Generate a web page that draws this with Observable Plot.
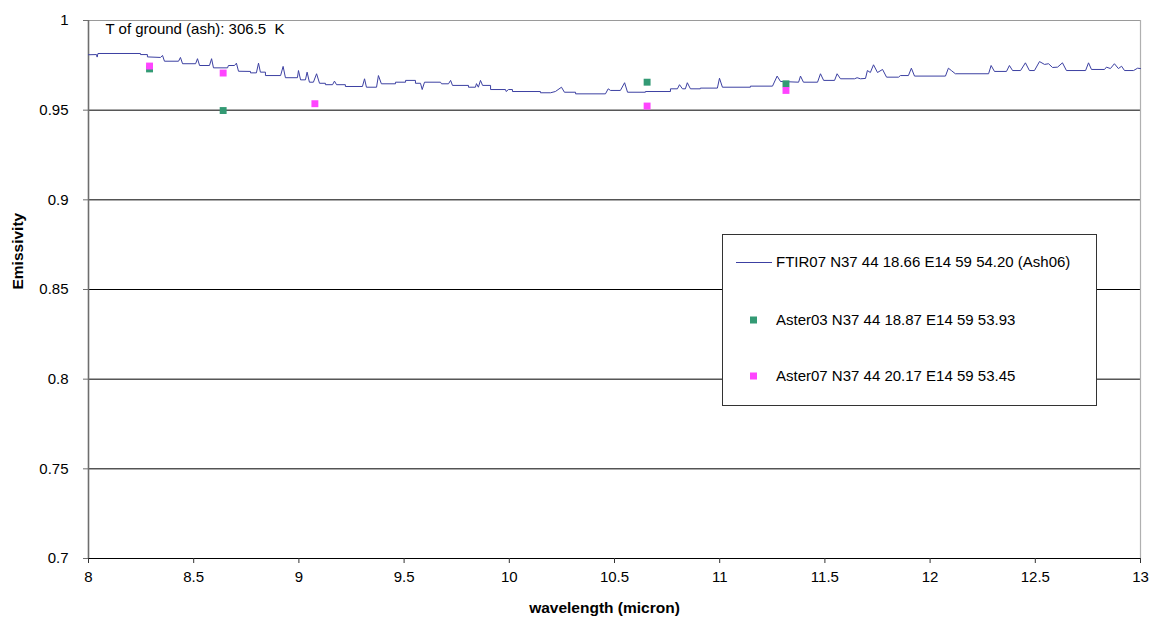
<!DOCTYPE html>
<html>
<head>
<meta charset="utf-8">
<script src="https://cdn.jsdelivr.net/npm/d3@7"></script>
<script src="https://cdn.jsdelivr.net/npm/@observablehq/plot@0.6"></script>
<style>
  html, body { margin: 0; padding: 0; background: #fff; }
  #chart { position: relative; width: 1153px; height: 630px; }
</style>
</head>
<body>
<div id="chart"></div>
<script>
// ---- Data ----
const ftirWl = [8.000,8.038,8.041,8.045,8.247,8.247,8.280,8.280,8.342,8.352,8.361,8.428,8.437,8.447,8.509,8.518,8.528,8.575,8.585,8.594,8.661,8.665,8.694,8.703,8.713,8.770,8.770,8.798,8.808,8.817,8.841,8.841,8.913,8.925,8.936,8.993,8.998,9.008,9.031,9.039,9.050,9.069,9.084,9.098,9.126,9.126,9.160,9.169,9.179,9.221,9.221,9.302,9.312,9.321,9.369,9.378,9.392,9.459,9.459,9.507,9.507,9.554,9.554,9.578,9.586,9.597,9.673,9.678,9.711,9.721,9.730,9.806,9.806,9.839,9.844,9.853,9.863,9.873,9.911,9.911,9.982,9.985,9.996,10.015,10.015,10.148,10.148,10.196,10.219,10.248,10.262,10.315,10.315,10.457,10.470,10.481,10.528,10.548,10.562,10.647,10.647,10.766,10.766,10.799,10.809,10.823,10.837,10.846,10.861,10.908,10.908,10.989,10.999,11.013,11.146,11.146,11.251,11.273,11.289,11.375,11.384,11.398,11.465,11.479,11.494,11.546,11.558,11.574,11.641,11.653,11.669,11.693,11.702,11.716,11.731,11.750,11.774,11.793,11.850,11.859,11.897,11.911,11.926,12.073,12.087,12.101,12.120,12.278,12.290,12.306,12.363,12.377,12.392,12.430,12.453,12.472,12.496,12.520,12.544,12.563,12.582,12.606,12.629,12.648,12.739,12.753,12.767,12.829,12.838,12.857,12.876,12.895,12.910,12.924,12.967,12.986,13.000];
const ftirEm = [0.9809,0.9810,0.9796,0.9816,0.9816,0.9810,0.9810,0.9797,0.9794,0.9805,0.9773,0.9773,0.9794,0.9759,0.9759,0.9787,0.9749,0.9749,0.9787,0.9736,0.9736,0.9749,0.9749,0.9762,0.9717,0.9716,0.9708,0.9708,0.9762,0.9712,0.9712,0.9693,0.9693,0.9744,0.9681,0.9681,0.9721,0.9669,0.9669,0.9712,0.9656,0.9656,0.9703,0.9650,0.9650,0.9642,0.9642,0.9662,0.9642,0.9642,0.9632,0.9632,0.9675,0.9628,0.9628,0.9693,0.9647,0.9647,0.9656,0.9656,0.9666,0.9666,0.9650,0.9650,0.9615,0.9656,0.9656,0.9647,0.9647,0.9666,0.9638,0.9638,0.9628,0.9628,0.9648,0.9628,0.9666,0.9638,0.9638,0.9615,0.9615,0.9604,0.9615,0.9615,0.9604,0.9604,0.9597,0.9597,0.9604,0.9628,0.9600,0.9600,0.9591,0.9591,0.9619,0.9610,0.9610,0.9653,0.9600,0.9600,0.9604,0.9604,0.9619,0.9619,0.9642,0.9619,0.9619,0.9653,0.9619,0.9619,0.9623,0.9623,0.9678,0.9628,0.9628,0.9634,0.9634,0.9690,0.9660,0.9656,0.9690,0.9656,0.9656,0.9703,0.9666,0.9666,0.9703,0.9675,0.9675,0.9681,0.9675,0.9677,0.9721,0.9710,0.9753,0.9710,0.9727,0.9684,0.9684,0.9693,0.9693,0.9734,0.9690,0.9690,0.9734,0.9721,0.9703,0.9703,0.9749,0.9716,0.9716,0.9749,0.9721,0.9721,0.9764,0.9721,0.9721,0.9771,0.9755,0.9759,0.9738,0.9740,0.9764,0.9721,0.9721,0.9764,0.9727,0.9727,0.9740,0.9732,0.9759,0.9732,0.9745,0.9721,0.9721,0.9734,0.9732];

const aster03Wl = [8.29, 8.64, 10.655, 11.315];
const aster03Em = [0.9730, 0.9498, 0.9656, 0.9647];
const aster07Wl = [8.29, 8.64, 9.076, 10.655, 11.315];
const aster07Em = [0.9746, 0.9707, 0.9536, 0.9523, 0.9610];

const seriesNames = [
  "FTIR07 N37 44 18.66 E14 59 54.20 (Ash06)",
  "Aster03 N37 44 18.87 E14 59 53.93",
  "Aster07 N37 44 20.17 E14 59 53.45"
];
const xTicks = [8, 8.5, 9, 9.5, 10, 10.5, 11, 11.5, 12, 12.5, 13];
const yTicks = [0.7, 0.75, 0.8, 0.85, 0.9, 0.95, 1];
const gridValues = [0.75, 0.8, 0.85, 0.9, 0.95];
const annotation = "T of ground (ash): 306.5  K";
const xTitle = "wavelength (micron)";
const yTitle = "Emissivity";

// ---- Build ----
const ftir = ftirWl.map((w, i) => ({w, e: ftirEm[i]}));
const a03 = aster03Wl.map((w, i) => ({w, e: aster03Em[i]}));
const a07 = aster07Wl.map((w, i) => ({w, e: aster07Em[i]}));

const lineColor = "#3c40a2";
const greenColor = "#339a74";
const pinkColor = "#ff44ff";
const font = "'Liberation Sans', Arial, sans-serif";

const plot = Plot.plot({
  width: 1153,
  height: 630,
  marginTop: 20,
  marginBottom: 72,
  marginLeft: 88,
  marginRight: 13,
  style: {fontFamily: font, fontSize: "15px", color: "#000", background: "#fff"},
  x: {domain: [8, 13]},
  y: {domain: [0.7, 1]},
  marks: [
    Plot.ruleY(gridValues, {stroke: "#000", strokeWidth: 1}),
    Plot.ruleY([1], {stroke: "#9a9a9a", strokeWidth: 1.2}),
    Plot.ruleX([13], {stroke: "#b0b0b0", strokeWidth: 1.2}),
    Plot.ruleX([8], {stroke: "#6e6e6e", strokeWidth: 1.6}),
    Plot.ruleY([0.7], {stroke: "#000", strokeWidth: 1}),
    Plot.axisY({ticks: yTicks, tickSize: 5, tickPadding: 15, stroke: "#6e6e6e", fontSize: 15,
      tickFormat: d => String(+d.toFixed(2)), label: null, fill: "#000"}),
    Plot.axisX({ticks: xTicks, tickSize: 5, tickPadding: 8, stroke: "#333", fontSize: 15,
      tickFormat: d => String(+d.toFixed(1)), label: null, fill: "#000"}),
    Plot.line(ftir, {x: "w", y: "e", stroke: lineColor, strokeWidth: 1}),
    Plot.dot(a03, {x: "w", y: "e", symbol: "square", r: 3.9, fill: greenColor, stroke: null}),
    Plot.dot(a07, {x: "w", y: "e", symbol: "square", r: 3.9, fill: pinkColor, stroke: null}),
    Plot.text([annotation], {frameAnchor: "top-left", dx: 17, dy: 3, textAnchor: "start",
      lineAnchor: "top", fontSize: 15, fill: "#000"}),
    Plot.text([xTitle], {frameAnchor: "bottom", dx: -10, dy: 54, fontWeight: "bold",
      fontSize: 15.5, fill: "#000"}),
    Plot.text([yTitle], {frameAnchor: "left", dx: -70, rotate: -90, fontWeight: "bold",
      fontSize: 15.5, fill: "#000"})
  ]
});

// ---- Legend (inside the plot, drawn into the same SVG) ----
const svg = d3.select(plot);
const lg = svg.append("g").attr("font-family", font).attr("font-size", 15)
  .attr("text-anchor", "start");
lg.append("rect").attr("x", 722.5).attr("y", 234.5).attr("width", 374).attr("height", 171)
  .attr("fill", "#fff").attr("stroke", "#333").attr("stroke-width", 1);
const rows = [
  {name: seriesNames[0], type: "line", color: lineColor, y: 262},
  {name: seriesNames[1], type: "square", color: greenColor, y: 320},
  {name: seriesNames[2], type: "square", color: pinkColor, y: 376}
];
for (const r of rows) {
  if (r.type === "line") {
    lg.append("line").attr("x1", 736).attr("x2", 772).attr("y1", r.y + 0.5).attr("y2", r.y + 0.5)
      .attr("stroke", r.color).attr("stroke-width", 1);
  } else {
    lg.append("rect").attr("x", 750).attr("y", r.y - 3.5).attr("width", 7).attr("height", 7)
      .attr("fill", r.color);
  }
  lg.append("text").attr("x", 776).attr("y", r.y).attr("dy", "0.35em").attr("fill", "#000")
    .attr("text-anchor", "start").text(r.name);
}

document.getElementById("chart").appendChild(plot);
</script>
</body>
</html>
